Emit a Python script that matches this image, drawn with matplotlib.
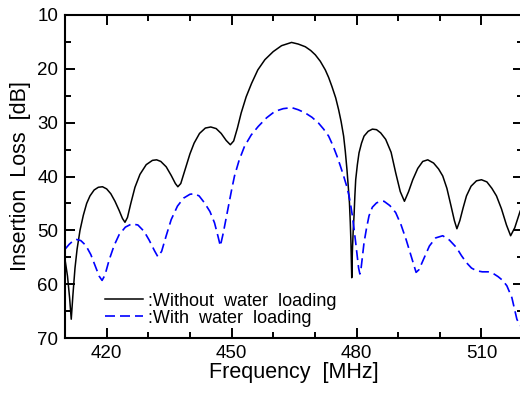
import matplotlib
matplotlib.use("Agg")
import matplotlib.pyplot as plt
from matplotlib.ticker import FixedLocator, MultipleLocator

plt.rcParams['font.family'] = ['Liberation Sans', 'DejaVu Sans']

# Without water loading (frequency MHz, insertion loss dB)
freq_dry = [410.0, 410.6, 411.1, 411.5, 411.9, 412.4, 412.9, 413.6, 414.4, 415.2,
            416.0, 417.0, 418.0, 419.0, 420.0, 421.0, 422.0, 423.0, 423.8, 424.4,
            425.0, 425.8, 426.8, 428.0, 429.5, 431.0, 432.0, 433.0, 434.3, 435.5,
            436.5, 437.1, 437.8, 438.8, 440.0, 441.0, 442.3, 443.7, 445.0, 446.3,
            447.5, 448.7, 449.7, 450.5, 451.4, 452.3, 453.5, 454.8, 456.3, 458.0,
            460.0, 462.0, 464.4, 466.0, 467.7, 469.0, 470.1, 471.3, 472.5, 473.3,
            474.1, 475.0, 475.7, 476.3, 476.9, 477.3, 477.7, 478.0, 478.3, 478.5,
            478.65, 478.75, 478.85, 479.0, 479.2, 479.4, 479.6, 479.8, 480.2, 480.6,
            481.2, 481.8, 482.8, 483.8, 484.8, 485.8, 487.0, 488.3, 489.4, 490.5,
            491.5, 492.5, 493.5, 494.7, 495.9, 497.1, 498.5, 499.7, 500.7, 501.7,
            502.7, 503.5, 504.1, 504.8, 505.6, 506.4, 507.5, 508.8, 510.0, 511.3,
            512.5, 513.6, 514.8, 516.0, 517.0, 518.0, 519.3, 520.0]
loss_dry = [55.4, 58.5, 62.5, 66.5, 62.0, 57.0, 53.5, 50.0, 47.2, 45.0,
            43.6, 42.5, 42.0, 41.9, 42.3, 43.2, 44.6, 46.3, 47.8, 48.5,
            47.6, 45.0, 42.0, 39.6, 37.8, 37.0, 36.9, 37.2, 38.2, 39.8,
            41.3, 41.9, 41.3, 38.8, 35.8, 33.8, 32.0, 31.0, 30.8, 31.1,
            32.0, 33.3, 34.1, 33.4, 31.0, 28.2, 25.2, 22.7, 20.2, 18.3,
            16.8, 15.7, 15.1, 15.4, 15.9, 16.6, 17.4, 18.6, 20.2, 21.6,
            23.3, 25.4, 27.6, 29.8, 32.5, 35.3, 38.7, 41.7, 44.9, 48.5,
            52.0, 55.5, 58.8, 54.0, 50.0, 47.3, 43.6, 40.6, 37.8, 35.6,
            33.8, 32.5, 31.6, 31.2, 31.3, 31.9, 33.1, 35.5, 39.3, 42.8,
            44.6, 42.8, 40.6, 38.5, 37.2, 36.9, 37.5, 38.6, 39.9, 42.2,
            45.5, 48.2, 49.7, 48.2, 45.8, 43.6, 41.8, 40.8, 40.6, 41.0,
            42.2, 43.6, 46.0, 49.0, 51.0, 49.5, 46.4, 45.5]

# With water loading
freq_wet = [410.0, 411.0, 412.0, 412.8, 413.8, 415.0, 416.2, 417.2, 418.2, 418.9,
            419.6, 420.6, 421.8, 423.0, 424.5, 426.0, 427.5, 429.0, 430.2, 431.5,
            432.3, 433.2, 434.3, 435.5, 437.0, 438.5, 440.0, 441.0, 442.2, 443.5,
            444.8, 445.9, 446.7, 447.3, 448.0, 449.1, 450.0, 450.7, 451.8, 453.1,
            454.7, 456.4, 458.4, 460.4, 462.4, 464.4, 466.0, 467.7, 469.3, 470.9,
            472.1, 473.3, 474.3, 475.3, 476.1, 476.9, 477.6, 478.2, 478.6, 479.0,
            479.4, 479.8, 480.2, 480.5, 480.8, 481.1, 481.4, 481.8, 482.4, 483.0,
            483.8, 484.8, 485.8, 486.6, 488.0, 489.4, 490.7, 491.9, 493.2, 494.3,
            495.0, 495.9, 497.5, 499.0, 500.7, 502.3, 504.0, 505.2, 506.4, 507.6,
            508.8, 510.2, 511.6, 512.8, 514.0, 515.1, 516.1, 517.3, 518.5, 519.2,
            520.0]
loss_wet = [53.5, 52.6, 51.9, 51.7, 51.9, 52.8, 54.5, 56.5, 58.5, 59.3,
            58.3, 55.5, 52.8, 50.8, 49.4, 48.8, 49.0, 50.2, 51.8, 53.8,
            54.9, 53.9, 51.0, 48.0, 45.5, 44.0, 43.3, 43.2, 43.6, 44.9,
            46.5, 48.6, 51.0, 52.9, 50.5, 46.1, 42.5, 39.9, 37.0, 34.4,
            32.3, 30.7, 29.1, 27.9, 27.4, 27.2, 27.6, 28.2, 29.0, 30.1,
            31.2, 32.5, 34.2, 36.2, 38.0, 39.9, 41.7, 43.6, 45.3, 47.3,
            49.7, 52.3, 55.0, 57.0, 58.1, 57.0, 55.0, 52.3, 49.6, 47.3,
            45.7, 44.9, 44.6, 44.6, 45.4, 46.7, 49.0, 51.7, 55.0, 57.8,
            57.3, 55.7, 52.9, 51.4, 51.0, 51.8, 53.2, 54.7, 56.0, 57.0,
            57.5, 57.7, 57.7, 58.0, 58.6, 59.3, 60.3, 62.5, 66.5, 67.6,
            68.0]

x_major = [420, 450, 480, 510]

fig = plt.figure(figsize=(5.2, 3.94), dpi=100)
ax = fig.add_axes([0.125, 0.142, 0.881, 0.820])

ax.plot(freq_dry, loss_dry, color='black', lw=1.1, label=':Without  water  loading')
ax.plot(freq_wet, loss_wet, color='#0000ff', lw=1.2, dashes=(6, 3),
        label=':With  water  loading')

ax.set_xlim(410, 520)
ax.set_ylim(70, 10)
ax.xaxis.set_major_locator(FixedLocator(x_major))
ax.xaxis.set_minor_locator(MultipleLocator(10))
ax.yaxis.set_major_locator(MultipleLocator(10))
ax.yaxis.set_minor_locator(MultipleLocator(5))

ax.tick_params(which='both', direction='in', top=True, right=True, width=1.4,
               labelsize=13.5, pad=5)
ax.tick_params(which='major', length=7.5)
ax.tick_params(which='minor', length=4)
for s in ax.spines.values():
    s.set_linewidth(1.5)

ax.set_xlabel('Frequency  [MHz]', fontsize=15.5, labelpad=0)
ax.set_ylabel('Insertion  Loss  [dB]', fontsize=15.5, labelpad=4)

ax.legend(loc='lower left', bbox_to_anchor=(0.088, 0.035), frameon=False,
          fontsize=13, handlelength=2.1, handletextpad=0.28, labelspacing=0.0,
          borderpad=0, borderaxespad=0)

fig.savefig('out.png', dpi=100)
